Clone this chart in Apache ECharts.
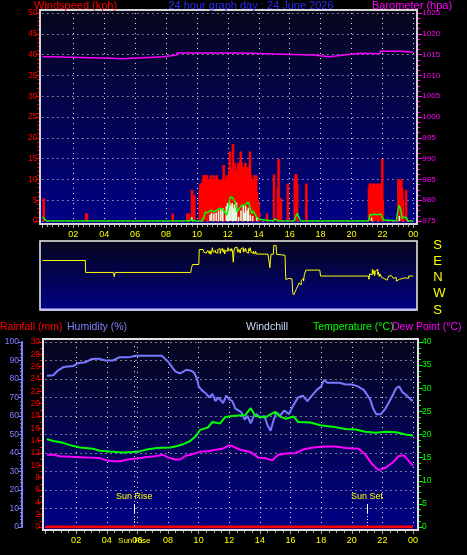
<!DOCTYPE html>
<html><head><meta charset="utf-8">
<script src="https://cdn.jsdelivr.net/npm/echarts@6/dist/echarts.min.js"></script>
<style>html,body{margin:0;padding:0;background:#000;}#c{width:467px;height:555px;}</style>
</head><body><div id="c"></div><script>
// ---------- DATA ----------
const dayHours = [0,1,2,3,4,5,6,7,8,9,10,11,12,13,14,15,16,17,18,19,20,21,22,23,24];
const dirLabels = ['S','E','N','W','S'];
const titleText = '24 hour graph day : 24 June 2026';
const sunRiseHour = 5.8, sunSetHour = 21.0;

// wind gust (kph) [hour, value]
const windGust = [[0.05,5.5],[2.8,1.8],[2.85,1.8],[8.4,1.8],[9.35,1.8],[9.45,1.8],[9.65,7.5],[9.8,6.2],
[10.15,7.5],[10.2,9],[10.25,9],[10.3,9],[10.35,10],[10.4,11],[10.45,11],[10.5,11],[10.55,9],[10.6,11],[10.65,10],[10.7,5],[10.75,10],[10.8,10],[10.85,11],[10.9,10],[10.95,7],
[11.0,10],[11.05,11],[11.1,6],[11.15,10],[11.2,10],[11.25,11],[11.3,10],[11.35,9],[11.4,9],[11.45,10],[11.5,9],[11.55,9],[11.6,10],[11.65,10],[11.7,13.5],[11.75,10],[11.8,9],[11.85,10],[11.9,11],[11.95,10],
[12.0,10],[12.05,12],[12.1,16.7],[12.15,12],[12.2,13],[12.25,10],[12.3,18.5],[12.35,13],[12.4,14],[12.45,12],[12.5,12],[12.55,11],[12.6,13],[12.65,14],[12.7,12],[12.75,14],[12.8,16.7],[12.85,14],[12.9,11],[12.95,13],
[13.0,12],[13.05,13],[13.1,14],[13.15,12],[13.2,11],[13.25,13],[13.3,12],[13.35,11],[13.4,16.7],[13.45,11],[13.5,10],[13.55,10],[13.6,9],[13.65,10],[13.7,11],[13.75,9],[13.8,11],[13.85,7],[13.9,5],[13.95,4],[14.0,2],
[14.5,1.8],[14.95,11.2],[15.2,8],[15.25,14.9],[15.3,5.5],[15.4,5.5],[15.85,9],[16.3,10],[16.35,11.2],[16.4,11.2],[16.45,9],[17.05,9],
[21.1,8],[21.15,9],[21.2,9],[21.25,7],[21.3,8],[21.35,9],[21.4,8],[21.45,9],[21.5,7],[21.55,8],[21.6,9],[21.65,8],[21.7,9],[21.75,8],[21.8,9],[21.85,9],[21.9,9],[21.96,14.9],[22.0,5],
[23.0,10],[23.05,9],[23.1,10],[23.15,9],[23.2,10],[23.25,8],[23.3,5],[23.5,7.5]];
const gustFloor = [0,0,0,0,0,0,0,0,0,0,0,0,0,0,0,0,0,0,0,0,0,0,0,0,0];

// wind speed (kph) light bars [hour, value]
const windSpeed = [[9.66,0.9],[10.85,1.5],[10.95,2],[11.1,1.8],[11.25,2],[11.4,2.5],[11.55,2.8],[11.67,3.1],[11.9,3.5],[11.98,4.3],[12.05,2.5],[12.12,4.5],[12.2,3.8],[12.28,4.3],[12.35,3],[12.42,4],[12.5,3.5],[12.56,4.4],[12.7,1],[12.85,2.5],[13.0,3.6],[13.08,2],[13.15,3.6],[13.25,2.5],[13.33,3.2],[13.45,1.5],[13.6,1.2],[13.87,0.8],[21.3,0.8],[23.1,1.2]];

// average wind (kph) [hour, value]
const windAvg = [[0,1],[0.1,1],[0.25,0],[9.5,0],[9.65,0.3],[9.9,0],[10.3,0],[10.45,0.9],[10.55,2.2],[10.7,2.0],[10.9,2.6],[11.1,2.2],[11.3,2.6],[11.45,3.0],[11.6,3.0],[11.75,2.4],[11.93,1.4],[12.05,3.5],[12.15,5.8],[12.3,5.6],[12.47,4.6],[12.6,2.2],[12.7,2.4],[12.9,3.8],[13.1,3.8],[13.33,4.6],[13.44,5.0],[13.55,1.8],[13.65,2.4],[13.76,2.2],[13.87,0.9],[14.0,0.4],[14.1,0],[14.95,0],[15.05,0.5],[15.15,0.5],[15.25,0],[16.3,0],[16.4,1.2],[16.5,1.8],[16.6,0.8],[16.7,0],[17.05,0],[17.15,0.3],[17.3,0],[21.1,0],[21.2,1.5],[21.5,1.6],[21.7,1.5],[21.9,1.7],[22.05,0.3],[22.1,0],[22.9,0],[23.0,2.5],[23.1,3.8],[23.2,2.5],[23.3,0.5],[23.4,1.0],[23.55,0.8],[23.65,0],[24,0]];

// barometer (hPa) [hour, value]
const barometer = [[0,1014.5],[0.5,1014.1],[4.4,1014.0],[5.2,1014.25],[6.5,1014.5],[7.8,1014.9],[8.7,1015.4],[12.8,1015.1],[15.6,1014.9],[17.5,1014.5],[18.6,1014.9],[19.5,1015.3],[20.6,1015.2],[21.85,1015.8],[23.2,1015.55],[24,1015.55]];

// wind direction (compass degrees) [hour, deg]
const windDir = [[0,94],[2.78,94],[2.8,28],[4.6,28],[4.65,4],[4.7,28],[9.6,28],[9.65,55],[9.72,72],[10.12,72],[10.15,155],[10.4,155],[10.45,140],[10.5,150],[10.55,135],[10.6,145],[10.65,130],[10.7,150],[10.75,140],[10.8,132],[10.85,148],[10.9,128],[10.95,145],[11.0,165],[11.05,140],[11.1,130],[11.15,150],[11.2,138],[11.25,145],[11.3,135],[11.35,155],[11.4,150],[11.45,160],[11.5,132],[11.55,150],[11.6,145],[11.65,162],[11.7,140],[11.75,155],[11.8,130],[11.85,150],[11.9,160],[11.95,145],[12.0,165],[12.05,150],[12.1,140],[12.15,158],[12.2,145],[12.25,160],[12.3,148],[12.35,85],[12.4,150],[12.45,165],[12.5,160],[12.55,168],[12.6,155],[12.65,140],[12.7,158],[12.75,150],[12.8,135],[12.85,160],[12.9,150],[12.95,165],[13.0,140],[13.05,158],[13.1,145],[13.15,162],[13.2,140],[13.25,150],[13.3,135],[13.35,160],[13.4,148],[13.45,165],[13.5,140],[13.55,150],[13.6,133],[13.65,145],[13.7,140],[13.75,130],[13.8,145],[13.85,130],[13.9,129],[14.6,129],[14.65,120],[14.72,55],[14.76,100],[14.8,129],[14.95,129],[14.97,178],[15.12,178],[15.15,129],[15.25,123],[15.7,123],[15.75,349],[15.85,355],[15.95,350],[16.05,352],[16.15,345],[16.2,275],[16.25,263],[16.3,270],[16.35,280],[16.45,300],[16.55,318],[16.6,330],[16.65,340],[16.7,320],[16.75,345],[16.8,335],[16.85,355],[16.9,340],[16.95,15],[17.0,25],[17.05,41],[17.95,41],[18.0,8],[21.1,8],[21.13,350],[21.18,20],[21.25,30],[21.3,15],[21.35,45],[21.4,20],[21.45,40],[21.5,10],[21.55,35],[21.6,25],[21.65,45],[21.7,15],[21.75,30],[21.8,5],[21.85,20],[21.9,10],[21.95,0],[22.0,355],[22.1,5],[22.2,345],[22.3,355],[22.4,8],[22.5,10],[22.6,5],[22.7,355],[22.8,0],[22.9,340],[23.0,350],[23.1,345],[23.2,355],[23.3,350],[23.4,358],[23.5,350],[23.6,355],[23.7,8],[24,8]];

// humidity (%) [hour, value]
const humidity = [[0.1,81.7],[0.5,82],[0.8,84.5],[1.2,86.5],[1.8,87],[2.1,88.5],[2.6,89],[3.0,90.8],[3.5,91],[3.9,90],[4.4,90],[4.8,91.7],[5.4,91.7],[5.9,92.6],[6.5,92.6],[7.2,92.6],[7.6,92.6],[7.8,91],[8.0,89.5],[8.3,86],[8.5,84],[8.8,83],[9.2,85],[9.5,84.5],[9.7,83.5],[9.9,80],[10.0,76],[10.2,74],[10.5,72],[10.7,70],[10.9,72],[11.1,68],[11.3,70],[11.6,67],[11.8,71],[12.0,69],[12.2,68],[12.4,64],[12.6,63],[12.8,62],[13.0,58],[13.2,60],[13.4,56],[13.6,60],[13.8,61],[14.0,59],[14.3,60],[14.5,55],[14.7,52],[14.9,58],[15.1,62],[15.3,60],[15.6,63],[15.9,61],[16.2,66],[16.5,70],[16.8,71],[17.1,68],[17.4,71],[17.7,74],[18.0,76],[18.2,79.5],[18.4,78],[18.8,78],[19.2,78],[19.6,77],[20.0,77],[20.4,76],[20.8,74],[21.2,69],[21.4,64],[21.6,61],[21.9,61],[22.2,64],[22.6,70],[22.9,75],[23.1,76],[23.3,73],[23.6,71],[23.9,68.5],[24,68.5]];

// temperature (°C) [hour, value]
const temperature = [[0.08,19.0],[0.5,18.6],[1.15,18.2],[1.6,17.7],[2.25,17.2],[3.1,16.9],[3.55,16.5],[4.2,16.3],[5.05,16.1],[5.7,16.2],[6.2,16.4],[6.7,16.8],[7.3,17.1],[8.15,17.2],[8.6,17.5],[9.0,17.9],[9.45,18.6],[9.8,19.6],[10.1,21.0],[10.6,21.5],[10.9,22.7],[11.4,22.4],[11.75,23.8],[12.2,24.0],[13.05,24.2],[13.4,25.7],[13.7,24.0],[14.35,23.7],[15.0,24.9],[15.35,23.8],[15.7,23.4],[16.2,23.9],[16.5,22.7],[17.3,22.6],[17.95,22.0],[18.75,21.7],[19.6,21.2],[20.25,21.1],[20.9,20.6],[21.55,20.4],[22.2,20.6],[22.9,20.5],[23.5,20.0],[24.0,19.8]];

// dew point (°C) [hour, value]
const dewPoint = [[0.1,15.6],[0.5,15.6],[0.95,15.3],[1.6,15.2],[2.25,15.1],[2.9,15.0],[3.55,14.9],[4.0,14.4],[4.55,14.2],[4.9,14.2],[5.35,14.6],[6.0,14.8],[6.5,15.1],[7.15,15.3],[7.7,15.6],[8.0,15.0],[8.5,14.6],[8.8,14.6],[9.15,15.4],[9.65,15.8],[10.1,16.3],[10.6,16.4],[11.1,16.7],[11.55,16.9],[11.95,17.6],[12.2,17.5],[12.7,16.7],[13.4,16.2],[13.9,15.0],[14.35,14.9],[14.8,14.4],[15.2,15.6],[15.7,15.9],[16.35,16.0],[16.85,16.8],[17.5,17.2],[18.3,17.4],[18.95,17.4],[19.6,17.1],[20.45,16.9],[20.9,15.6],[21.35,13.5],[21.75,12.3],[22.2,12.8],[22.7,14.0],[23.05,15.3],[23.4,15.5],[23.75,14.2],[24.0,13.2]];

// rainfall (mm) hourly
const rainfall = [0,0,0,0,0,0,0,0,0,0,0,0,0,0,0,0,0,0,0,0,0,0,0,0,0];

// ---------- CHART ----------
const FONT = '"Liberation Sans", Arial, sans-serif';
const fmtHour = v => String(v % 24).padStart(2, '0');
const plain = v => String(v);
const pair = (xs, ys) => xs.map((x, i) => [x, ys[i]]);
const dirPos = d => (180 - d + 360) % 360;
const grad = (a, b) => ({type:'linear', x:0, y:0, x2:0, y2:1, colorStops:[{offset:0,color:a},{offset:1,color:b}]});
const dotted = {show:true, lineStyle:{color:'#e8e8e8', type:[1,4], width:1}};

const chart = echarts.init(document.getElementById('c'), null, {renderer:'canvas'});

const hourAxis = (gi, extra) => Object.assign({
  gridIndex: gi, type:'value', min:0, max:24, interval:2,
  axisLine:{show:false, onZero:false},
  axisTick:{show:true, length:4, lineStyle:{color:'#a8a8a8'}},
  minorTick:{show:true, splitNumber:6, length:3, lineStyle:{color:'#a8a8a8'}},
  axisLabel:{color:'#ffff00', fontSize:9, fontFamily:FONT, margin:6, showMinLabel:false, formatter:fmtHour},
  splitLine:Object.assign({showMinLine:false}, dotted)
}, extra);

const option = {
  backgroundColor:'#000',
  animation:false,
  graphic:[
    {type:'rect', z:-100, shape:{x:40,y:10,width:377,height:214}, style:{fill:grad('#06061c','#000086')}},
    {type:'rect', z:-100, shape:{x:40,y:241,width:377,height:69}, style:{fill:grad('#06061c','#000084')}},
    {type:'rect', z:-100, shape:{x:43,y:339,width:375,height:191}, style:{fill:grad('#06061c','#000086')}},
    {type:'rect', z:100, shape:{x:40,y:10,width:377,height:214}, style:{fill:null, stroke:'#d4d4d4', lineWidth:2}},
    {type:'rect', z:100, shape:{x:40,y:241,width:377,height:69}, style:{fill:null, stroke:'#f0f0f0', lineWidth:1.5}},
    {type:'line', z:101, shape:{x1:40,y1:309.5,x2:417,y2:309.5}, style:{stroke:'#c8c8ff', lineWidth:2}},
    {type:'rect', z:100, shape:{x:43,y:339,width:375,height:191}, style:{fill:null, stroke:'#e0e0e0', lineWidth:2}},
    {type:'text', z:110, style:{text:'Windspeed (kph)', x:34, y:6, fill:'#ff0000', fontSize:11, fontFamily:FONT, verticalAlign:'middle'}},
    {type:'text', z:110, style:{text:titleText, x:251, y:6, fill:'#2a2aff', fontSize:11, fontFamily:FONT, align:'center', verticalAlign:'middle'}},
    {type:'text', z:110, style:{text:'Barometer (hpa)', x:372, y:6, fill:'#ff00ff', fontSize:11, fontFamily:FONT, verticalAlign:'middle'}},
    {type:'text', z:110, style:{text:'Rainfall (mm)', x:0, y:327, fill:'#ff0000', fontSize:10.5, fontFamily:FONT, verticalAlign:'middle'}},
    {type:'text', z:110, style:{text:'Humidity (%)', x:67, y:327, fill:'#8080ff', fontSize:10.5, fontFamily:FONT, verticalAlign:'middle'}},
    {type:'text', z:110, style:{text:'Windchill', x:246, y:327, fill:'#c8d8f8', fontSize:10.5, fontFamily:FONT, verticalAlign:'middle'}},
    {type:'text', z:110, style:{text:'Temperature (°C)', x:313, y:327, fill:'#00ff00', fontSize:10.5, fontFamily:FONT, verticalAlign:'middle'}},
    {type:'text', z:110, style:{text:'Dew Point (°C)', x:392, y:327, fill:'#ff00ff', fontSize:10.5, fontFamily:FONT, verticalAlign:'middle'}}
  ],
  grid:[
    {left:42.4, top:13, width:370.9, height:208},
    {left:42.4, top:245, width:370.9, height:65},
    {left:45.5, top:342, width:367.5, height:185}
  ],
  xAxis:[
    hourAxis(0, {offset:3}),
    {gridIndex:1, type:'value', min:0, max:24, show:false},
    hourAxis(2, {offset:3, minorTick:{show:true, splitNumber:4, length:3, lineStyle:{color:'#a8a8a8'}}})
  ],
  yAxis:[
    {gridIndex:0, type:'value', min:0, max:50, interval:5, position:'left', offset:2,
     axisLine:{show:false, onZero:false}, axisTick:{show:true, length:5, lineStyle:{color:'#ff0000'}},
     minorTick:{show:true, splitNumber:5, length:3, lineStyle:{color:'#ff0000'}},
     axisLabel:{color:'#ff0000', fontSize:8.5, fontFamily:FONT, margin:3},
     splitLine:dotted},
    {gridIndex:0, type:'value', min:975, max:1025, interval:5, position:'right', offset:4,
     axisLine:{show:false, onZero:false}, axisTick:{show:true, length:5, lineStyle:{color:'#ff00ff'}},
     minorTick:{show:true, splitNumber:4, length:3, lineStyle:{color:'#ff00ff'}},
     axisLabel:{color:'#ff00ff', fontSize:8, fontFamily:FONT, margin:5, formatter:plain},
     splitLine:{show:false}},
    {gridIndex:1, type:'value', min:0, max:360, interval:90, inverse:true, position:'right',
     axisLine:{show:false, onZero:false}, axisTick:{show:false},
     axisLabel:{color:'#ffff00', fontSize:13, fontFamily:FONT, margin:20, formatter:(v)=>dirLabels[Math.round(v/90)]},
     splitLine:{show:false}},
    {gridIndex:2, type:'value', min:0, max:100, interval:10, position:'left', offset:23.5,
     axisLine:{show:true, onZero:false, lineStyle:{color:'#8080ff', width:2}},
     axisTick:{show:true, length:4, lineStyle:{color:'#8080ff'}},
     minorTick:{show:true, splitNumber:5, length:2, lineStyle:{color:'#8080ff'}},
     axisLabel:{color:'#8080ff', fontSize:8.5, fontFamily:FONT, margin:3},
     splitLine:dotted},
    {gridIndex:2, type:'value', min:0, max:30, interval:2, position:'left', offset:2.5,
     axisLine:{show:true, onZero:false, lineStyle:{color:'#ff0000', type:[2,2], width:1.5}},
     axisTick:{show:true, length:5, lineStyle:{color:'#ff0000'}},
     minorTick:{show:true, splitNumber:2, length:3, lineStyle:{color:'#ff0000'}},
     axisLabel:{color:'#ff0000', fontSize:8.5, fontFamily:FONT, margin:3},
     splitLine:{show:false}},
    {gridIndex:2, type:'value', min:0, max:40, interval:5, position:'right', offset:5,
     axisLine:{show:true, onZero:false, lineStyle:{color:'#00ff00', width:1.5}},
     axisTick:{show:true, length:5, lineStyle:{color:'#00ff00'}},
     minorTick:{show:true, splitNumber:4, length:3, lineStyle:{color:'#00ff00'}},
     axisLabel:{color:'#00ff00', fontSize:8.5, fontFamily:FONT, margin:4},
     splitLine:{show:false}}
  ],
  series:[
    {name:'Gust floor', type:'line', xAxisIndex:0, yAxisIndex:0, data:pair(dayHours, gustFloor), symbol:'none', silent:true, z:2,
     lineStyle:{color:'#ff0000', width:1}},
    {name:'Gust', type:'bar', xAxisIndex:0, yAxisIndex:0, data:windGust, barWidth:2.6, barGap:'-100%', silent:true, z:3,
     itemStyle:{color:'#ff0000'}},
    {name:'Wind', type:'bar', xAxisIndex:0, yAxisIndex:0, data:windSpeed, barWidth:1.6, barGap:'-100%', silent:true, z:4,
     itemStyle:{color:'#e0ffe0'}},
    {name:'Average', type:'line', xAxisIndex:0, yAxisIndex:0, data:windAvg, symbol:'none', silent:true, z:5,
     lineStyle:{color:'#00ff00', width:1.5}},
    {name:'Barometer', type:'line', xAxisIndex:0, yAxisIndex:1, data:barometer, step:'end', symbol:'none', silent:true, z:5,
     lineStyle:{color:'#ff00ff', width:1.5}},
    {name:'Direction', type:'line', xAxisIndex:1, yAxisIndex:2, data:windDir.map(p=>[p[0], dirPos(p[1])]), step:'end', symbol:'none', silent:true,
     lineStyle:{color:'#ffff00', width:1}},
    {name:'Rainfall', type:'line', xAxisIndex:2, yAxisIndex:4, data:pair(dayHours, rainfall), symbol:'none', silent:true, z:6,
     lineStyle:{color:'#ff0000', width:3},
     markPoint:{silent:true, symbol:'circle', symbolSize:0,
       data:[{coord:[sunRiseHour,0], label:{show:true, formatter:'Sun Rise', color:'#ffff00', fontSize:8, fontFamily:FONT, offset:[0,14]}}]}},
    {name:'Humidity', type:'line', xAxisIndex:2, yAxisIndex:3, data:humidity, symbol:'none', silent:true, z:3,
     lineStyle:{color:'#7878ff', width:2},
     markLine:{silent:true, symbol:['none','none'], animation:false,
       data:[
         [{coord:[sunRiseHour,0], lineStyle:{color:'#e8e8e8', type:[1,4], width:1}, label:{show:false}},{coord:[sunRiseHour,100]}],
         [{coord:[sunRiseHour,12.4], lineStyle:{color:'#ffffff', type:'solid', width:1}, label:{show:true, position:'start', formatter:'Sun Rise', color:'#ffff00', fontSize:9, fontFamily:FONT, distance:3}},{coord:[sunRiseHour,7.6]}],
         [{coord:[sunRiseHour,7.6], lineStyle:{color:'#ffff00', type:[1,2], width:1}, label:{show:false}},{coord:[sunRiseHour,0]}],
         [{coord:[sunSetHour,12.4], lineStyle:{color:'#ffffff', type:'solid', width:1}, label:{show:true, position:'start', formatter:'Sun Set', color:'#ffff00', fontSize:9, fontFamily:FONT, distance:3}},{coord:[sunSetHour,7.6]}],
         [{coord:[sunSetHour,7.6], lineStyle:{color:'#ffffff', type:[1,2], width:1}, label:{show:false}},{coord:[sunSetHour,0]}]
       ]}},
    {name:'Temperature', type:'line', xAxisIndex:2, yAxisIndex:5, data:temperature, symbol:'none', silent:true, z:4,
     lineStyle:{color:'#00ff00', width:2}},
    {name:'Dew Point', type:'line', xAxisIndex:2, yAxisIndex:5, data:dewPoint, symbol:'none', silent:true, z:4,
     lineStyle:{color:'#ff00ff', width:2}}
  ]
};
chart.setOption(option);
</script></body></html>
